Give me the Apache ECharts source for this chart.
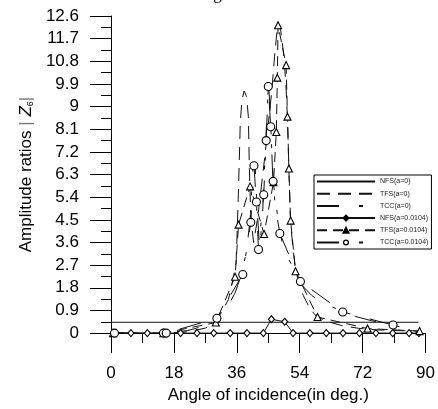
<!DOCTYPE html>
<html><head><meta charset="utf-8">
<script src="https://cdn.jsdelivr.net/npm/echarts@6/dist/echarts.min.js"></script>
<style>html,body{margin:0;padding:0;background:#fff}#c{width:438px;height:409px}</style>
</head><body><div id="c"></div>
<script>
// axis ranges / ticks
const xMin = 0, xMax = 90, xStep = 18;
const yMin = 0, yMax = 12.6, yStep = 0.9;
const xTitle = 'Angle of incidence(in deg.)';
const figTitle = 'Fig. 6';

const seriesNames = ['NFS(a=0)', 'TFS(a=0)', 'TCC(a=0)', 'NFS(a=0.0104)', 'TFS(a=0.0104)', 'TCC(a=0.0104)'];

// [angle, amplitude ratio] pairs
const nfsA0 = [[0,0.43],[30,0.43],[60,0.43],[88,0.43]];
const tfsA0 = [[0,0],[15,0],[22,0.05],[27,0.2],[30,0.45],[31,0.67],[32.3,1.0],[33.6,1.34],[35,2.2],[35.8,2.8],[36.4,5.3],[37,8.4],[37.5,9.3],[38.1,9.62],[38.8,9.4],[39.3,8.6],[39.6,6.5],[40,4.6],[40.8,3.6],[42,4.6],[43,5.8],[44,7.0],[45,8.3],[46,9.6],[46.8,11.0],[47.5,12.0],[47.9,12.3],[48.6,12.0],[49.3,11.2],[50,10.0],[50.5,8.5],[50.9,6.5],[51.3,4.6],[51.9,3.6],[52.8,2.5],[54,1.9],[55,1.5],[57,0.95],[59,0.64],[62,0.46],[66,0.3],[70.8,0.19],[76,0.13],[82,0.1],[88.2,0.08]];
const tccA0 = [[0,0],[15,0],[22,0.1],[27,0.3],[30,0.5],[33,0.95],[35.5,1.6],[37.5,2.4],[38.8,3.3],[39.8,4.5],[40.6,6.5],[41.2,6.8],[41.8,5.0],[42.5,3.4],[43.3,4.5],[44,6.8],[44.6,8.6],[45.1,9.9],[45.6,8.7],[46.2,6.5],[47,5.0],[48.3,4.0],[49.5,3.3],[51,2.9],[53,2.35],[55,1.85],[57.4,1.5],[60,1.25],[62.3,1.1],[66.3,0.86],[70,0.66],[74.6,0.49],[80.7,0.32],[84,0.2],[88.3,0.08]];
const nfsA1 = [[1,0],[5.7,0],[10.4,0],[15.2,0],[19.9,0],[24.6,0],[29.4,0],[34.1,0],[38.9,0],[43.6,0],[45.9,0.55],[49.7,0.45],[52.1,0],[56.9,0],[61.6,0],[66.4,0],[71.1,0],[75.8,0],[80.6,0],[85.3,0],[88.1,0]];
const tfsA1 = [[0.6,0],[15,0],[30,0.42],[35.5,2.24],[36.5,4.31],[39.8,5.83],[43.8,3.94],[46.5,6.0],[47.3,7.99],[47.6,10.15],[47.8,12.23],[50.1,10.65],[50.5,8.6],[50.9,6.54],[51.4,4.47],[52.8,2.46],[59.1,0.64],[73.4,0.18],[88.3,0.08]];
const tccA1 = [[1,0],[15,0],[15.8,0],[30.3,0.59],[37.7,2.33],[40,4.4],[40.9,6.65],[41.6,5.21],[42.2,3.32],[43.7,5.5],[44.4,7.65],[45,9.8],[45.7,8.2],[46.4,6.03],[48.3,3.96],[54.2,2.05],[66.3,0.84],[80.7,0.32]];

const fmt = v => (Math.round(v * 10) / 10).toString();
const chart = echarts.init(document.getElementById('c'), null, {renderer: 'canvas'});
const font = 'Liberation Sans, Arial, sans-serif';
const lineBase = {color: '#111', width: 1};
const noMark = {color: 'rgba(0,0,0,0)', borderColor: 'rgba(0,0,0,0)'};
const mark = {color: '#fff', borderColor: '#000', borderWidth: 1.1};

chart.setOption({
  animation: false,
  backgroundColor: '#fff',
  color: ['#000'],
  graphic: [{
    type: 'text', left: 199, top: -14,
    style: {text: figTitle, font: '17px "Liberation Serif", serif', fill: '#000'}
  }],
  grid: {left: 111, right: 10.5, top: 16, bottom: 75, containLabel: false},
  legend: {
    orient: 'vertical', left: 314, top: 175,
    padding: [3, 3, 3, 2], itemGap: 5.2, itemWidth: 58, itemHeight: 6,
    borderColor: '#000', borderWidth: 1, backgroundColor: '#fff',
    textStyle: {fontSize: 7, fontFamily: font, color: '#222', lineHeight: 6},
    data: [
      {name: seriesNames[0], itemStyle: noMark},
      {name: seriesNames[1], itemStyle: noMark},
      {name: seriesNames[2], itemStyle: noMark},
      {name: seriesNames[3], itemStyle: {color: '#000', borderColor: '#000'}},
      {name: seriesNames[4], itemStyle: {color: '#000', borderColor: '#000'}},
      {name: seriesNames[5], itemStyle: {color: '#fff', borderColor: '#000', borderWidth: 1.2}}
    ]
  },
  xAxis: {
    type: 'value', min: xMin, max: xMax, interval: xStep,
    name: xTitle, nameLocation: 'middle', nameGap: 52,
    nameTextStyle: {fontSize: 17, fontFamily: font, color: '#000'},
    axisLine: {lineStyle: {color: '#000', width: 1}},
    axisTick: {show: true, length: 20, lineStyle: {color: '#000'}},
    minorTick: {show: true, splitNumber: 2, length: 10, lineStyle: {color: '#000'}},
    axisLabel: {fontSize: 17, fontFamily: font, color: '#000', margin: 32},
    splitLine: {show: false}
  },
  yAxis: {
    type: 'value', min: yMin, max: yMax, interval: yStep,
    name: '{a|Amplitude ratios }{b||}{a| }{z|Z}{s|6}{b||}', nameLocation: 'middle', nameGap: 72, nameRotate: 90,
    nameTextStyle: {
      rich: {
        a: {fontSize: 17, fontFamily: font, color: '#000'},
        b: {fontSize: 17, fontFamily: font, color: '#777'},
        z: {fontSize: 17, fontFamily: font, fontStyle: 'italic', color: '#000'},
        s: {fontSize: 9, fontFamily: font, color: '#000', padding: [8, 0, 0, 0]}
      }
    },
    axisLine: {show: true, lineStyle: {color: '#000', width: 1}},
    axisTick: {show: true, length: 21, lineStyle: {color: '#000'}},
    minorTick: {show: true, splitNumber: 2, length: 10, lineStyle: {color: '#000'}},
    axisLabel: {fontSize: 17, fontFamily: font, color: '#000', margin: 32, formatter: fmt},
    splitLine: {show: false}
  },
  series: [
    {name: seriesNames[0], type: 'line', data: nfsA0, symbol: 'none', lineStyle: Object.assign({}, lineBase), itemStyle: noMark, z: 2},
    {name: seriesNames[1], type: 'line', data: tfsA0, symbol: 'none', lineStyle: Object.assign({}, lineBase, {type: [13, 8]}), itemStyle: noMark, z: 2},
    {name: seriesNames[2], type: 'line', data: tccA0, symbol: 'none', lineStyle: Object.assign({}, lineBase, {type: [22, 20, 4, 20]}), itemStyle: noMark, z: 2},
    {name: seriesNames[3], type: 'line', data: nfsA1, symbol: 'diamond', symbolSize: [6, 7], showAllSymbol: true,
      lineStyle: Object.assign({}, lineBase), itemStyle: mark, z: 4},
    {name: seriesNames[4], type: 'line', data: tfsA1, symbol: 'triangle', symbolSize: 7, showAllSymbol: true,
      lineStyle: Object.assign({}, lineBase, {type: [10, 6]}), itemStyle: mark, z: 4},
    {name: seriesNames[5], type: 'line', data: tccA1, symbol: 'circle', symbolSize: 8, showAllSymbol: true,
      lineStyle: Object.assign({}, lineBase, {type: [22, 20, 4, 20]}), itemStyle: mark, z: 4}
  ]
});
</script>
</body></html>
